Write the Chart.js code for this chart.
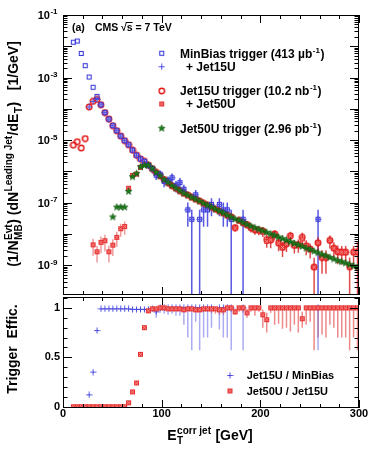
<!DOCTYPE html>
<html>
<head>
<meta charset="utf-8">
<script src="https://cdn.jsdelivr.net/npm/chart.js@4.4.0/dist/chart.umd.min.js"></script>
<style>
  html, body { margin: 0; padding: 0; background: #fff; }
  #wrap { position: relative; width: 374px; height: 452px; overflow: hidden; }
  #specBox { position: absolute; left: 0; top: 0; width: 374px; height: 300px; }
  #effBox { position: absolute; left: 0; top: 290px; width: 374px; height: 162px; }
</style>
</head>
<body>
<div id="wrap">
  <div id="specBox"><canvas id="specChart"></canvas></div>
  <div id="effBox"><canvas id="effChart"></canvas></div>
</div>
<script>
// ===== Data =====
// leading jet E_T bin centres [GeV]
const etBins = [10.5, 14.5, 18.5, 22.5, 26.5, 30.5, 34.5, 38.5, 42.5, 46.5,
  50.5, 54.5, 58.5, 62.5, 66.5, 70.5, 74.5, 78.5, 82.5, 86.5,
  90.5, 94.5, 98.5, 102.5, 106.5, 110.5, 114.5, 118.5, 122.5, 126.5,
  130.5, 134.5, 138.5, 142.5, 146.5, 150.5, 154.5, 158.5, 162.5, 166.5,
  170.5, 174.5, 178.5, 182.5, 186.5, 190.5, 194.5, 198.5, 202.5, 206.5,
  210.5, 214.5, 218.5, 222.5, 226.5, 230.5, 234.5, 238.5, 242.5, 246.5,
  250.5, 254.5, 258.5, 262.5, 266.5, 270.5, 274.5, 278.5, 282.5, 286.5,
  290.5, 294.5, 298.5];

// top panel: (1/N) dN/dE_T [1/GeV]
const minBiasSpec = [1.35e-2, 1.47e-2, 5.9e-3, 2.4e-3, 1.04e-3, 4.9e-4, 2.5e-4, 1.35e-4, 7.6e-5, 4.7e-5,
  2.9e-5, 2.0e-5, 1.35e-5, 9.6e-6, 7.1e-6, 4.8e-6, 3.3e-6, 2.5e-6, 2.1e-6, 1.58e-6,
  1.23e-6, 7.6e-7, 8.2e-7, 4.8e-7, 5.1e-7, 6.3e-7, 3.5e-7, 4.4e-7, 2.7e-7, 5.9e-8,
  2.95e-8, 1.8e-7, 2.95e-8, 5.9e-8, 5.9e-8, 8.8e-8, null, 8.8e-8, 5.9e-8, 5.9e-8,
  2.95e-8, null, null, 2.95e-8, null, null, null, null, null, null,
  null, null, null, null, null, null, null, null, null, null,
  null, null, 2.95e-8, null, null, null, null, null, null, null,
  null, null, null];
const minBiasErr = [0, 0, 0, 0, 0, 0, 0, 0, 0, 0,
  0, 0, 0, 0, 0, 0, 0, 0, 0, 0.25,
  0.3, 0.3, 0.3, 0.35, 0.35, 0.35, 0.4, 0.4, 0.4, 0.71,
  1, 0.41, 1, 0.71, 0.71, 0.58, null, 0.58, 0.71, 0.71,
  1, null, null, 1, null, null, null, null, null, null,
  null, null, null, null, null, null, null, null, null, null,
  null, null, 1, null, null, null, null, null, null, null,
  null, null, null];
const minBiasJet15Spec = [null, null, null, null, 1.15e-4, 1.74e-4, 2.0e-4, 1.35e-4, 7.6e-5, 4.7e-5,
  2.9e-5, 2.0e-5, 1.35e-5, 9.6e-6, 7.1e-6, 4.8e-6, 3.3e-6, 2.5e-6, 2.1e-6, 1.58e-6,
  1.23e-6, 7.6e-7, 8.2e-7, 4.8e-7, 5.1e-7, 6.3e-7, 3.5e-7, 4.4e-7, 2.7e-7, 5.9e-8,
  2.95e-8, 1.8e-7, 2.95e-8, 5.9e-8, 5.9e-8, 8.8e-8, null, 8.8e-8, 5.9e-8, 5.9e-8,
  2.95e-8, null, null, 2.95e-8, null, null, null, null, null, null,
  null, null, null, null, null, null, null, null, null, null,
  null, null, 2.95e-8, null, null, null, null, null, null, null,
  null, null, null];
const jet15Spec = [6.9e-6, 8.9e-6, 5.6e-6, 1.12e-5, 1.15e-4, 1.74e-4, 2.0e-4, 1.35e-4, 7.6e-5, 4.7e-5,
  2.9e-5, 2.0e-5, 1.35e-5, 9.6e-6, 7.1e-6, 4.8e-6, 3.3e-6, 2.5e-6, 2.1e-6, 1.6e-6,
  1.23e-6, 9.3e-7, 7.2e-7, 5.5e-7, 4.4e-7, 3.5e-7, 2.9e-7, 2.4e-7, 2.0e-7, 1.74e-7,
  1.48e-7, 1.29e-7, 1.12e-7, 9.5e-8, 8.3e-8, 7.2e-8, 6.2e-8, 5.4e-8, 4.7e-8, 4.0e-8,
  3.5e-8, 1.6e-8, 2.7e-8, 2.3e-8, 2.0e-8, 1.58e-8, 1.36e-8, 1.3e-8, 1.24e-8, 6.6e-9,
  6.4e-9, 1.0e-8, 5.1e-9, 3.7e-9, 4.8e-9, 8.7e-9, 4.3e-9, 4.6e-9, 7.8e-9, 4.2e-9,
  3.3e-9, 8.7e-10, 5.2e-9, 1.77e-9, 1.77e-9, 6.2e-9, 3.5e-9, 2.7e-9, 2.6e-9, 2.6e-9,
  8.9e-10, 2.6e-9, 2.7e-9];
const jet15Err = [0, 0, 0, 0, 0, 0, 0, 0, 0, 0,
  0, 0, 0, 0, 0, 0, 0, 0, 0, 0.05,
  0.05, 0.05, 0.05, 0.05, 0.05, 0.05, 0.06, 0.06, 0.06, 0.07,
  0.08, 0.08, 0.1, 0.1, 0.1, 0.12, 0.12, 0.12, 0.15, 0.15,
  0.2, 0.25, 0.2, 0.2, 0.25, 0.3, 0.3, 0.3, 0.35, 0.45,
  0.45, 0.35, 0.45, 0.5, 0.45, 0.35, 0.45, 0.45, 0.4, 0.5,
  0.5, 1, 0.5, 0.7, 0.7, 0.45, 0.55, 0.6, 0.6, 0.6,
  1, 0.6, 1];
const jet15Jet50Spec = [null, null, null, null, null, 4.5e-9, 2.7e-9, 5.4e-9, 6.1e-9, 2.7e-9,
  4.4e-9, 7.8e-9, 1.47e-8, 1.73e-8, 2.9e-7, 7.5e-7, 8.2e-7, 1.34e-6, 1.7e-6, 1.6e-6,
  1.23e-6, 9.3e-7, 7.2e-7, 5.5e-7, 4.4e-7, 3.5e-7, 2.9e-7, 2.4e-7, 2.0e-7, 1.74e-7,
  1.48e-7, 1.29e-7, 1.12e-7, 9.5e-8, 8.3e-8, 7.2e-8, 6.2e-8, 5.4e-8, 4.7e-8, 4.0e-8,
  3.5e-8, 1.55e-8, 2.7e-8, 2.3e-8, 1.9e-8, 1.58e-8, 1.36e-8, 1.3e-8, 1.15e-8, 5.8e-9,
  6.4e-9, 1.0e-8, 5.1e-9, 3.7e-9, 4.8e-9, 8.7e-9, 4.3e-9, 4.6e-9, 6.9e-9, 4.2e-9,
  3.3e-9, 8.7e-10, 5.2e-9, 1.77e-9, 1.77e-9, 6.2e-9, 3.5e-9, 2.7e-9, 2.6e-9, 2.6e-9,
  8.9e-10, 2.6e-9, 2.7e-9];
const jet15Jet50Err = [null, null, null, null, null, 0.55, 0.55, 0.55, 0.55, 0.55,
  0.55, 0.5, 0.45, 0.45, 0.15, 0.08, 0.08, 0.08, 0.08];
const jet50Spec = [null, null, null, null, null, null, null, null, null, null,
  3.5e-8, 7.2e-8, 7.2e-8, 7.2e-8, 2.3e-7, 6.7e-7, 8.5e-7, 1.4e-6, 1.55e-6, 1.6e-6,
  1.23e-6, 9.3e-7, 7.2e-7, 5.5e-7, 4.4e-7, 3.5e-7, 2.9e-7, 2.4e-7, 2.0e-7, 1.74e-7,
  1.48e-7, 1.29e-7, 1.12e-7, 9.5e-8, 8.3e-8, 7.2e-8, 6.2e-8, 5.4e-8, 4.7e-8, 4.0e-8,
  3.5e-8, 3.0e-8, 2.7e-8, 2.3e-8, 2.0e-8, 1.78e-8, 1.58e-8, 1.41e-8, 1.26e-8, 1.12e-8,
  1.0e-8, 8.9e-9, 7.9e-9, 7.1e-9, 6.3e-9, 5.6e-9, 5.0e-9, 4.5e-9, 4.0e-9, 3.5e-9,
  3.2e-9, 2.8e-9, 2.5e-9, 2.2e-9, 2.0e-9, 1.78e-9, 1.58e-9, 1.41e-9, 1.29e-9, 1.17e-9,
  1.05e-9, 9.5e-10, 8.5e-10];

// bottom panel: trigger efficiencies
const effJet15 = [null, null, null, null, 0.12, 0.35, 0.77, 0.99, 0.99, 0.99,
  0.99, 0.99, 0.99, 0.99, 0.99, 0.985, 0.985, 0.985, 0.985, 0.985,
  0.99, 0.96, 1, 1, 1, 1, 1, 1, 1, 1,
  1, 1, 1, 1, 1, 1, null, 1, 1, 1,
  1, null, null, 1, null, null, null, null, null, null,
  null, null, null, null, null, null, null, null, null, null,
  null, null, 1, null, null, null, null, null, null, null,
  null, null, null];
const effJet15Low = [null, null, null, null, null, null, null, null, null, null,
  null, null, null, null, null, 0.975, 0.975, 0.975, 0.975, 0.975,
  0.975, 0.9, 0.95, 0.94, 0.93, 0.94, 0.92, 0.92, 0.83, 0.7,
  0.57, 0.86, 0.57, 0.7, 0.7, 0.8, null, 0.78, 0.7, 0.7,
  0.57, null, null, 0.57, null, null, null, null, null, null,
  null, null, null, null, null, null, null, null, null, null,
  null, null, 0.57, null, null, null, null, null, null, null,
  null, null, null];
const effJet50 = [0, 0, 0, 0, 0, 0, 0, 0, 0, 0,
  0, 0, 0, 0, 0.04, 0.15, 0.24, 0.53, 0.8, 0.97,
  0.99, 0.99, 1, 1, 0.99, 0.99, 0.99, 0.99, 0.98, 0.99,
  0.99, 0.98, 0.98, 0.99, 0.99, 0.99, 0.99, 0.98, 0.98, 1,
  1, 0.96, 1, 1, 0.95, 1, 1, 1, 0.93, 0.88,
  1, 1, 1, 1, 1, 1, 1, 1, 0.89, 1,
  1, 1, 1, 1, 1, 1, 1, 1, 1, 1,
  1, 1, 1];
const effJet50Low = [null, null, null, null, null, null, null, null, null, null,
  null, null, null, null, null, null, null, null, null, 0.95,
  0.97, 0.97, 0.98, 0.98, 0.97, 0.97, 0.97, 0.97, 0.96, 0.97,
  0.97, 0.96, 0.96, 0.96, 0.96, 0.95, 0.94, 0.93, 0.93, 0.97,
  0.96, 0.93, 0.96, 0.95, 0.9, 0.96, 0.92, 0.96, 0.8, 0.75,
  0.95, 0.83, 0.84, 0.79, 0.8, 0.76, 0.83, 0.75, 0.8, 0.83,
  0.86, 0.57, 0.7, 0.73, 0.7, 0.83, 0.8, 0.7, 0.7, 0.7,
  0.57, 0.7, 0.57];
const effJet50High = [null, null, null, null, null, null, null, null, null, null,
  null, null, null, null, null, null, null, null, null, null,
  null, null, null, null, null, null, null, null, null, null,
  null, null, null, null, null, null, null, null, null, null,
  null, 0.99, null, null, 0.99, null, null, null, 0.98, 0.95,
  null, null, null, null, null, null, null, null, 0.96];

// axis tick labels
const specLabelExps = [-1, -3, -5, -7, -9];
const effTickLabels = [0, 0.5, 1];
const etTickLabels = [0, 100, 200, 300];

// ===== Helpers =====
const SANS = '"Liberation Sans", Arial, Helvetica, sans-serif';
const BLUE = '#3c3cd8';
const RED = '#e01818';
const GREEN = '#1c7a1c';

function markerCanvas(size, draw) {
  const c = document.createElement('canvas');
  c.width = size; c.height = size;
  draw(c.getContext('2d'), size / 2);
  return c;
}
const mkSquare = markerCanvas(7, (g) => {
  g.strokeStyle = BLUE; g.lineWidth = 1.1; g.strokeRect(1.5, 1.5, 4, 4);
});
const mkPlus = markerCanvas(7, (g, c) => {
  g.strokeStyle = '#4a4ae0'; g.lineWidth = 1;
  g.beginPath(); g.moveTo(c, 0.5); g.lineTo(c, 6.5); g.moveTo(0.5, c); g.lineTo(6.5, c); g.stroke();
});
const mkCircle = markerCanvas(8, (g, c) => {
  g.strokeStyle = RED; g.lineWidth = 1.5;
  g.beginPath(); g.arc(c, c, 2.7, 0, Math.PI * 2); g.stroke();
});
const mkXSquare = markerCanvas(7, (g) => {
  g.fillStyle = '#e63030'; g.fillRect(1, 1, 5, 5);
  g.strokeStyle = '#ffb0b0'; g.lineWidth = 0.8;
  g.beginPath(); g.moveTo(2, 2); g.lineTo(5, 5); g.moveTo(5, 2); g.lineTo(2, 5); g.stroke();
});
const mkStar = markerCanvas(9, (g, c) => {
  g.beginPath();
  for (let i = 0; i < 10; i++) {
    const a = -Math.PI / 2 + i * Math.PI / 5;
    const r = i % 2 ? 1.5 : 3.6;
    g.lineTo(c + r * Math.cos(a), c + r * Math.sin(a));
  }
  g.closePath();
  g.fillStyle = GREEN; g.fill();
  g.strokeStyle = '#0e560e'; g.lineWidth = 0.6; g.stroke();
});

function points(values, lows, highs) {
  const out = [];
  values.forEach((v, i) => {
    if (v == null) return;
    out.push({ x: etBins[i], y: v, lo: lows ? lows[i] : null, hi: highs ? highs[i] : null });
  });
  return out;
}
function relBound(values, rel, sign) {
  return values.map((v, i) => (v == null || rel[i] == null || rel[i] === 0) ? null : v * (1 + sign * rel[i]));
}

function drawRich(ctx, parts, x, y, size, align) {
  const big = `bold ${size}px ${SANS}`;
  const small = `bold ${Math.round(size * 0.7)}px ${SANS}`;
  const widths = parts.map(p => {
    if (p.t != null) { ctx.font = big; return ctx.measureText(p.t).width; }
    ctx.font = small;
    return Math.max(p.sup ? ctx.measureText(p.sup).width : 0, p.sub ? ctx.measureText(p.sub).width : 0) + 1;
  });
  const total = widths.reduce((s, w) => s + w, 0);
  let cx = align === 'center' ? x - total / 2 : align === 'right' ? x - total : x;
  ctx.textAlign = 'left';
  ctx.textBaseline = 'alphabetic';
  parts.forEach((p, i) => {
    if (p.t != null) { ctx.font = big; ctx.fillText(p.t, cx, y); }
    else {
      ctx.font = small;
      if (p.sup) ctx.fillText(p.sup, cx + 0.5, y - size * 0.42);
      if (p.sub) ctx.fillText(p.sub, cx + 0.5, y + size * 0.3);
    }
    cx += widths[i];
  });
  return total;
}

// ===== Plugins =====
const errorBars = {
  id: 'errorBars',
  beforeDatasetsDraw(chart) {
    const { ctx, chartArea: a, scales } = chart;
    ctx.save();
    ctx.beginPath();
    ctx.rect(a.left, a.top, a.width, a.height);
    ctx.clip();
    chart.data.datasets.forEach((ds) => {
      if (!ds.errColor) return;
      ctx.strokeStyle = ds.errColor;
      ctx.lineWidth = 1.5;
      ctx.beginPath();
      ds.data.forEach((p) => {
        if (p.lo == null && p.hi == null) return;
        const px = scales.x.getPixelForValue(p.x);
        const yv = scales.y.getPixelForValue(p.y);
        const log = scales.y.type === 'logarithmic';
        const yLo = p.lo == null ? yv : (log && p.lo <= 0 ? a.bottom : scales.y.getPixelForValue(p.lo));
        const yHi = p.hi == null ? yv : scales.y.getPixelForValue(p.hi);
        ctx.moveTo(px, yHi);
        ctx.lineTo(px, yLo);
      });
      ctx.stroke();
    });
    ctx.restore();
  }
};

const rootFrame = {
  id: 'rootFrame',
  afterDatasetsDraw(chart, args, opts) {
    const { ctx, chartArea: a, scales: { x, y } } = chart;
    ctx.save();
    ctx.strokeStyle = '#000';
    ctx.lineWidth = 1;
    ctx.beginPath();
    for (let v = 0; v <= 300; v += 20) {
      const px = Math.round(x.getPixelForValue(v)) + 0.5;
      const len = v % 100 === 0 ? 8 : 4;
      ctx.moveTo(px, a.bottom); ctx.lineTo(px, a.bottom - len);
      ctx.moveTo(px, a.top); ctx.lineTo(px, a.top + len);
    }
    const yTicks = [];
    if (y.type === 'logarithmic') {
      for (let e = -10; e <= -1; e++) {
        for (let m = 1; m <= 9; m++) yTicks.push([m * Math.pow(10, e), m === 1]);
      }
    } else {
      for (let i = 0; i <= 11; i++) yTicks.push([i / 10, i % 5 === 0]);
    }
    yTicks.forEach(([v, major]) => {
      if (v < y.min || v > y.max) return;
      const py = Math.round(y.getPixelForValue(v)) + 0.5;
      const len = major ? 9 : 4.5;
      ctx.moveTo(a.left, py); ctx.lineTo(a.left + len, py);
      ctx.moveTo(a.right, py); ctx.lineTo(a.right - len, py);
    });
    ctx.stroke();
    ctx.strokeRect(a.left + 0.5, a.top + 0.5, a.width - 1, a.height - 1);
    ctx.restore();
  }
};

function drawLegendRow(ctx, marker, mx, my, parts, tx, size) {
  ctx.drawImage(marker, mx - marker.width / 2, my - marker.height / 2);
  drawRich(ctx, parts, tx, my + size * 0.36, size, 'left');
}

const specText = {
  id: 'specText',
  afterDraw(chart) {
    const { ctx, chartArea: a, scales: { y } } = chart;
    ctx.save();
    ctx.fillStyle = '#000';
    specLabelExps.forEach(e => {
      const py = y.getPixelForValue(Math.pow(10, e));
      drawRich(ctx, [{ t: '10' }, { sup: String(e) }], a.left - 5, py + 4, 11, 'right');
    });
    // y axis title
    ctx.save();
    ctx.translate(17.5, 154);
    ctx.rotate(-Math.PI / 2);
    drawRich(ctx, [{ t: '(1/N' }, { sup: 'Evt', sub: 'MB' }, { t: ') (dN' }, { sup: 'Leading Jet' },
      { t: '/dE' }, { sub: 'T' }, { t: ')   [1/GeV]' }], 0, 0, 14, 'center');
    ctx.restore();
    // header
    ctx.font = `bold 10.5px ${SANS}`;
    ctx.textBaseline = 'alphabetic';
    ctx.fillText('(a)', 72, 31);
    ctx.fillText('CMS', 95, 31);
    const rx = 121;
    const rootW = ctx.measureText('\u221A').width;
    ctx.fillText('\u221A', rx, 31);
    const sW = ctx.measureText('s').width;
    ctx.fillText('s', rx + rootW, 31);
    ctx.lineWidth = 1;
    ctx.beginPath();
    ctx.moveTo(rx + rootW - 1, 22.5); ctx.lineTo(rx + rootW + sW, 22.5);
    ctx.stroke();
    ctx.fillText(' = 7 TeV', rx + rootW + sW, 31);
    // legend
    drawLegendRow(ctx, mkSquare, 161.7, 53.3, [{ t: 'MinBias trigger (413 \u00B5b' }, { sup: '-1' }, { t: ')' }], 180, 12);
    drawLegendRow(ctx, mkPlus, 161.7, 66.7, [{ t: '+ Jet15U' }], 186, 12);
    drawLegendRow(ctx, mkCircle, 161.7, 91, [{ t: 'Jet15U trigger (10.2 nb' }, { sup: '-1' }, { t: ')' }], 180, 12);
    drawLegendRow(ctx, mkXSquare, 161.7, 104, [{ t: '+ Jet50U' }], 186, 12);
    drawLegendRow(ctx, mkStar, 161.7, 128.3, [{ t: 'Jet50U trigger (2.96 pb' }, { sup: '-1' }, { t: ')' }], 180, 12);
    ctx.restore();
  }
};

const effText = {
  id: 'effText',
  afterDraw(chart) {
    const { ctx, chartArea: a, scales: { x, y } } = chart;
    ctx.save();
    ctx.fillStyle = '#000';
    ctx.font = `bold 11px ${SANS}`;
    ctx.textBaseline = 'middle';
    ctx.textAlign = 'right';
    effTickLabels.forEach(v => ctx.fillText(String(v), a.left - 3, y.getPixelForValue(v)));
    ctx.textAlign = 'center';
    etTickLabels.forEach(v => ctx.fillText(String(v), x.getPixelForValue(v), a.bottom + 6));
    // x title
    drawRich(ctx, [{ t: 'E' }, { sup: 'corr jet', sub: 'T' }, { t: ' [GeV]' }], 210, 150, 14, 'center');
    // y title
    ctx.save();
    ctx.translate(16.5, 59);
    ctx.rotate(-Math.PI / 2);
    drawRich(ctx, [{ t: 'Trigger  Effic.' }], 0, 0, 14, 'center');
    ctx.restore();
    drawLegendRow(ctx, mkPlus, 230, 85.5, [{ t: 'Jet15U / MinBias' }], 246.7, 11);
    drawLegendRow(ctx, mkXSquare, 230, 101, [{ t: 'Jet50U / Jet15U' }], 246.7, 11);
    ctx.restore();
  }
};

function baseOptions(yScale, padding) {
  return {
    responsive: true,
    maintainAspectRatio: false,
    animation: false,
    layout: { padding },
    plugins: { legend: { display: false }, tooltip: { enabled: false } },
    scales: {
      x: { type: 'linear', min: 0, max: 300, display: false },
      y: yScale
    }
  };
}

// ===== Spectrum (top panel) =====
new Chart(document.getElementById('specChart'), {
  type: 'scatter',
  plugins: [errorBars, rootFrame, specText],
  data: {
    datasets: [
      { label: 'Jet50U trigger', data: points(jet50Spec), pointStyle: mkStar, pointRadius: 4, order: 0 },
      { label: '+ Jet15U', data: points(minBiasJet15Spec), pointStyle: mkPlus, pointRadius: 3, order: 1 },
      { label: 'MinBias trigger', data: points(minBiasSpec, relBound(minBiasSpec, minBiasErr, -1), relBound(minBiasSpec, minBiasErr, 1)),
        pointStyle: mkSquare, pointRadius: 3, order: 2, errColor: 'rgba(60,60,220,0.85)' },
      { label: '+ Jet50U', data: points(jet15Jet50Spec, relBound(jet15Jet50Spec, jet15Jet50Err, -1), relBound(jet15Jet50Spec, jet15Jet50Err, 1)),
        pointStyle: mkXSquare, pointRadius: 3, order: 3, errColor: 'rgba(235,120,120,0.75)' },
      { label: 'Jet15U trigger', data: points(jet15Spec, relBound(jet15Spec, jet15Err, -1), relBound(jet15Spec, jet15Err, 1)),
        pointStyle: mkCircle, pointRadius: 3, order: 4, errColor: 'rgba(215,30,30,0.8)' }
    ]
  },
  options: baseOptions({ type: 'logarithmic', min: 1.12e-10, max: 0.1, display: false },
    { left: 63, right: 15, top: 15, bottom: 2 })
});

// ===== Efficiency (bottom panel) =====
new Chart(document.getElementById('effChart'), {
  type: 'scatter',
  plugins: [errorBars, rootFrame, effText],
  data: {
    datasets: [
      { label: 'Jet50U / Jet15U', data: points(effJet50, effJet50Low, effJet50High), pointStyle: mkXSquare, pointRadius: 3,
        order: 0, errColor: 'rgba(225,60,60,0.6)' },
      { label: 'Jet15U / MinBias', data: points(effJet15, effJet15Low), pointStyle: mkPlus, pointRadius: 3,
        order: 1, errColor: 'rgba(90,90,230,0.5)' }
    ]
  },
  options: baseOptions({ type: 'linear', min: -0.013, max: 1.11, display: false },
    { left: 63, right: 15, top: 7, bottom: 44 })
});
</script>
</body>
</html>
